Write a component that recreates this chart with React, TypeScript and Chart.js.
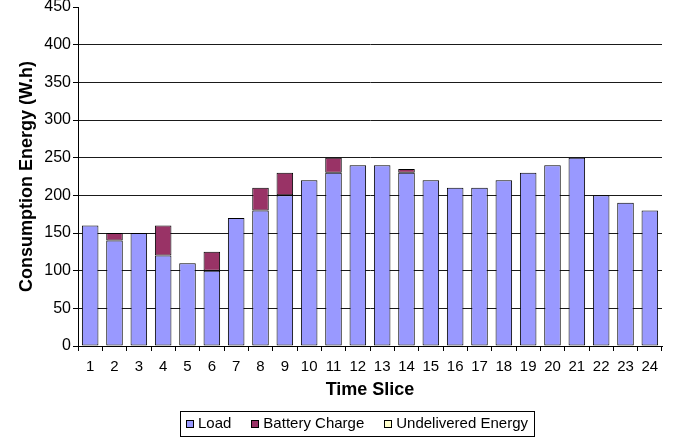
import React, { useEffect, useRef } from "react";
import { Chart, registerables } from "chart.js";

Chart.register(...registerables);

const categories = ["1","2","3","4","5","6","7","8","9","10","11","12","13","14","15","16","17","18","19","20","21","22","23","24"];
const loadValues = [160,140,150,120,110,100,170,180,200,220,230,240,240,230,220,210,210,220,230,240,250,200,190,180];
const batteryValues = [0,10,0,40,0,25,0,30,30,0,20,0,0,5,0,0,0,0,0,0,0,0,0,0];
const undeliveredValues = [0,0,0,0,0,0,0,0,0,0,0,0,0,0,0,0,0,0,0,0,0,0,0,0];
const seriesNames = ["Load", "Battery Charge", "Undelivered Energy"];
const seriesColors = ["#9999FF", "#993366", "#FFFFCC"];
const yTitle = "Consumption Energy (W.h)";
const xTitle = "Time Slice";

const FONT = '"Liberation Sans", Arial, sans-serif';

const legendBox = {
  id: "legendBox",
  afterDraw(chart: any) {
    const ctx = chart.ctx;
    ctx.save();
    ctx.font = `15px ${FONT}`;
    const items = chart.data.datasets.map((ds: any) => ({
      label: ds.label,
      color: ds.backgroundColor,
      w: ctx.measureText(ds.label).width,
    }));
    const sq = 8, gapIn = 4, gapOut = 20, padX = 6;
    const total =
      items.reduce((s: number, it: any) => s + sq + gapIn + it.w, 0) +
      gapOut * (items.length - 1) + padX * 2;
    const cx = 357, top = 411, h = 25;
    let x = Math.round(cx - total / 2);
    ctx.strokeStyle = "#000";
    ctx.lineWidth = 1;
    ctx.strokeRect(x + 0.5, top + 0.5, Math.round(total), h);
    x += padX;
    const cy = top + h / 2 + 0.5;
    items.forEach((it: any) => {
      const bx = Math.round(x), by = Math.round(cy - sq / 2);
      ctx.fillStyle = it.color;
      ctx.fillRect(bx, by, sq, sq);
      ctx.strokeStyle = "#000";
      ctx.strokeRect(bx + 0.5, by + 0.5, sq - 1, sq - 1);
      ctx.fillStyle = "#000";
      ctx.textBaseline = "middle";
      ctx.textAlign = "left";
      ctx.fillText(it.label, x + sq + gapIn, cy);
      x += sq + gapIn + it.w + gapOut;
    });
    ctx.restore();
  },
};

export default function App() {
  const ref = useRef<HTMLCanvasElement | null>(null);
  useEffect(() => {
    if (!ref.current) return;
    const values = [loadValues, batteryValues, undeliveredValues];
    const chart = new Chart(ref.current, {
      type: "bar",
      data: {
        labels: categories,
        datasets: seriesNames.map((name, i) => ({
          label: name,
          data: values[i].map((v) => (v === 0 ? null : v)),
          backgroundColor: seriesColors[i],
          borderColor: "#000",
          borderWidth: 1,
          borderSkipped: false,
          categoryPercentage: 0.68,
          barPercentage: 1,
        })),
      },
      options: {
        animation: false,
        responsive: false,
        layout: { padding: { left: 0, top: 7, right: 22, bottom: 39 } },
        plugins: { legend: { display: false }, tooltip: { enabled: false } },
        scales: {
          x: {
            stacked: true,
            grid: { drawOnChartArea: false, drawTicks: true, tickLength: 5, tickColor: "#000", offset: true },
            border: { color: "#000", width: 1 },
            ticks: { color: "#000", font: { family: FONT, size: 15 }, padding: 7, maxRotation: 0, autoSkip: false },
            title: { display: true, text: xTitle, color: "#000", font: { family: FONT, size: 18, weight: "bold" }, padding: { top: 0, bottom: 1 } },
            afterFit: (s: any) => { s.height = 56; s.paddingLeft = 0; s.paddingRight = 0; },
          },
          y: {
            stacked: true,
            min: 0,
            max: 450,
            ticks: { stepSize: 50, color: "#000", font: { family: FONT, size: 16 }, padding: 2 },
            grid: {
              color: (c: any) => (c.tick && c.tick.value === 450 ? "rgba(0,0,0,0)" : "#1a1a1a"),
              tickColor: "#000",
              tickLength: 5,
              drawTicks: true,
            },
            border: { color: "#000", width: 1 },
            title: { display: true, text: yTitle, color: "#000", font: { family: FONT, size: 18, weight: "bold" }, padding: { top: 16, bottom: 0 } },
            afterFit: (s: any) => { s.width = 78; s.paddingTop = 0; s.paddingBottom = 0; },
          },
        },
      },
      plugins: [legendBox],
    });
    return () => chart.destroy();
  }, []);
  return (
    <div style={{ position: "absolute", left: 0, top: 0, width: 684, height: 441, background: "#fff" }}>
      <canvas ref={ref} width={684} height={441} style={{ display: "block", width: 684, height: 441 }} />
    </div>
  );
}
